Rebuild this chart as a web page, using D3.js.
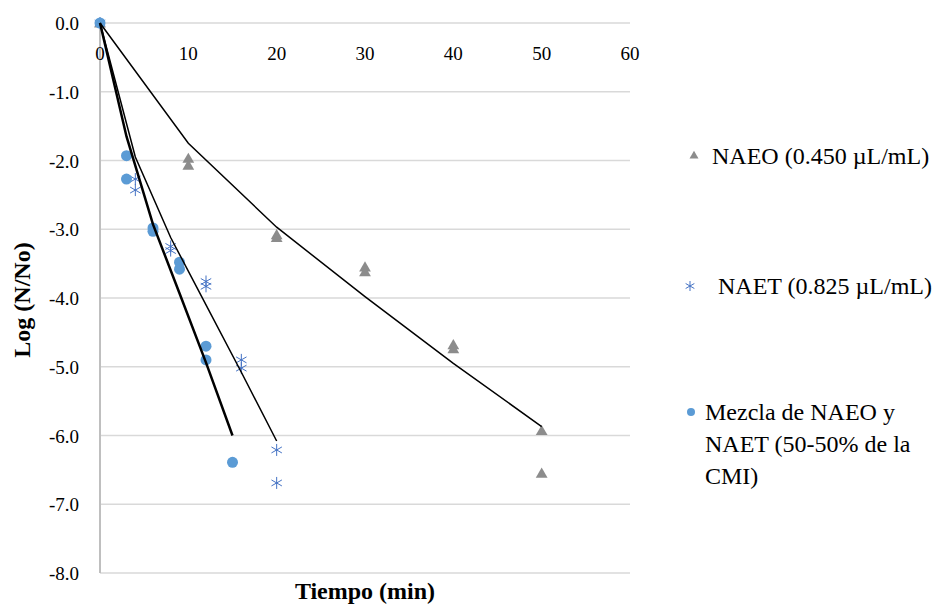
<!DOCTYPE html>
<html>
<head>
<meta charset="utf-8">
<script src="https://cdn.jsdelivr.net/npm/d3@7/dist/d3.min.js"></script>
<style>
  body { margin: 0; background: #fff; }
  text { font-family: "Liberation Serif", "Times New Roman", serif; fill: #000; }
</style>
</head>
<body>
<svg id="chart" width="943" height="604"></svg>
<script>
// observed points
var naeo_t = [0, 10, 10, 20, 20, 30, 30, 40, 40, 50, 50];
var naeo_y = [0, -1.97, -2.07, -3.08, -3.12, -3.55, -3.62, -4.68, -4.74, -5.93, -6.55];

var naet_t = [0, 4, 4, 8, 8, 12, 12, 16, 16, 20, 20];
var naet_y = [0, -2.27, -2.43, -3.25, -3.31, -3.76, -3.83, -4.90, -5.02, -6.21, -6.69];

var mez_t = [0, 3, 3, 6, 6, 9, 9, 12, 12, 15];
var mez_y = [0, -1.93, -2.27, -2.98, -3.03, -3.48, -3.58, -4.70, -4.90, -6.39];

// fitted curves
var naeo_fit_t = [0, 10, 20, 30, 40, 50];
var naeo_fit_y = [0, -1.75, -2.97, -3.98, -4.95, -5.87];
var naet_fit_t = [0, 4, 8, 12, 16, 20];
var naet_fit_y = [0, -1.95, -3.12, -4.10, -5.08, -6.08];
var mez_fit_t = [0, 3, 6, 9, 12, 15];
var mez_fit_y = [0, -1.65, -2.93, -3.93, -4.94, -6.0];

var x_ticks = [0, 10, 20, 30, 40, 50, 60];
var y_ticks = [0, -1, -2, -3, -4, -5, -6, -7, -8];

var svg = d3.select("#chart");
var p_left = 100, p_right = 630, p_top = 23, p_bottom = 573;

var x = d3.scaleLinear().domain([0, 60]).range([p_left, p_right]);
var y = d3.scaleLinear().domain([0, -8]).range([p_top, p_bottom]);

// gridlines
svg.append("g").selectAll("line").data(y_ticks).enter().append("line")
  .attr("x1", p_left).attr("x2", p_right)
  .attr("y1", function(d){ return y(d); }).attr("y2", function(d){ return y(d); })
  .style("stroke", "#d9d9d9").style("stroke-width", 1.5);

// y axis line
svg.append("line").attr("x1", p_left).attr("x2", p_left).attr("y1", p_top).attr("y2", p_bottom)
  .style("stroke", "#bfbfbf").style("stroke-width", 2);

// y tick labels (plain hyphen, like the original)
svg.append("g").selectAll("text").data(y_ticks).enter().append("text")
  .attr("x", 79).attr("y", function(d){ return y(d) + 7; })
  .attr("text-anchor", "end").style("font-size", "19px")
  .text(function(d){ return d.toFixed(1).replace("-0.0", "0.0"); });

// x tick labels (axis crosses at 0, labels under top line)
svg.append("g").selectAll("text").data(x_ticks).enter().append("text")
  .attr("x", function(d){ return x(d); }).attr("y", 60)
  .attr("text-anchor", "middle").style("font-size", "19px")
  .text(function(d){ return d; });

// titles
svg.append("text").attr("x", 365).attr("y", 599).attr("text-anchor", "middle")
  .style("font-size", "24px").style("font-weight", "bold").text("Tiempo (min)");
svg.append("text").attr("transform", "translate(30,300) rotate(-90)").attr("text-anchor", "middle")
  .style("font-size", "24px").style("font-weight", "bold").text("Log (N/No)");

function zip(a, b){
  var out = [];
  for (var i=0; i<a.length; i++) { out.push([a[i], b[i]]); }
  return out;
}

var line = d3.line().x(function(d){ return x(d[0]); }).y(function(d){ return y(d[1]); });

// markers
var tri = d3.symbol().type(d3.symbolTriangle).size(60);
function star(g, cx, cy, r, col){
  g.append("line").attr("x1", cx).attr("x2", cx).attr("y1", cy-r).attr("y2", cy+r).style("stroke", col).style("stroke-width", 1);
  g.append("line").attr("x1", cx-r*0.87).attr("x2", cx+r*0.87).attr("y1", cy-r*0.5).attr("y2", cy+r*0.5).style("stroke", col).style("stroke-width", 1);
  g.append("line").attr("x1", cx-r*0.87).attr("x2", cx+r*0.87).attr("y1", cy+r*0.5).attr("y2", cy-r*0.5).style("stroke", col).style("stroke-width", 1);
}

var naeo = zip(naeo_t, naeo_y);
var naet = zip(naet_t, naet_y);
var mez = zip(mez_t, mez_y);

svg.append("g").selectAll("path").data(naeo).enter().append("path")
  .attr("d", tri).attr("transform", function(d){ return "translate(" + x(d[0]) + "," + (y(d[1]) + 1) + ")"; })
  .style("fill", "#8c8c8c");

var sg = svg.append("g");
for (var i=0; i<naet.length; i++) {
  star(sg, x(naet[i][0]), y(naet[i][1]), 6, "#4472c4");
}

svg.append("g").selectAll("circle").data(mez).enter().append("circle")
  .attr("cx", function(d){ return x(d[0]); }).attr("cy", function(d){ return y(d[1]); })
  .attr("r", 5.5).style("fill", "#5b9bd5");

// fit lines
svg.append("path").datum(zip(naeo_fit_t, naeo_fit_y)).attr("d", line)
  .style("fill", "none").style("stroke", "#000").style("stroke-width", 1.5);
svg.append("path").datum(zip(naet_fit_t, naet_fit_y)).attr("d", line)
  .style("fill", "none").style("stroke", "#000").style("stroke-width", 1.5);
svg.append("path").datum(zip(mez_fit_t, mez_fit_y)).attr("d", line)
  .style("fill", "none").style("stroke", "#000").style("stroke-width", 2.5);

// legend
var lg = svg.append("g");
lg.append("path").attr("d", d3.symbol().type(d3.symbolTriangle).size(35))
  .attr("transform", "translate(694,156)").style("fill", "#8c8c8c");
lg.append("text").attr("x", 712).attr("y", 164).style("font-size", "24px").text("NAEO (0.450 µL/mL)");
star(lg, 690, 286, 5, "#4472c4");
lg.append("text").attr("x", 718).attr("y", 294).style("font-size", "24px").text("NAET (0.825 µL/mL)");
lg.append("circle").attr("cx", 691).attr("cy", 412).attr("r", 4).style("fill", "#5b9bd5");
var mlines = ["Mezcla de NAEO y", "NAET (50-50% de la", "CMI)"];
lg.selectAll("text.m").data(mlines).enter().append("text").attr("class", "m")
  .attr("x", 705).attr("y", function(d, i){ return 420 + i*32; })
  .style("font-size", "24px").text(function(d){ return d; });
</script>
</body>
</html>
